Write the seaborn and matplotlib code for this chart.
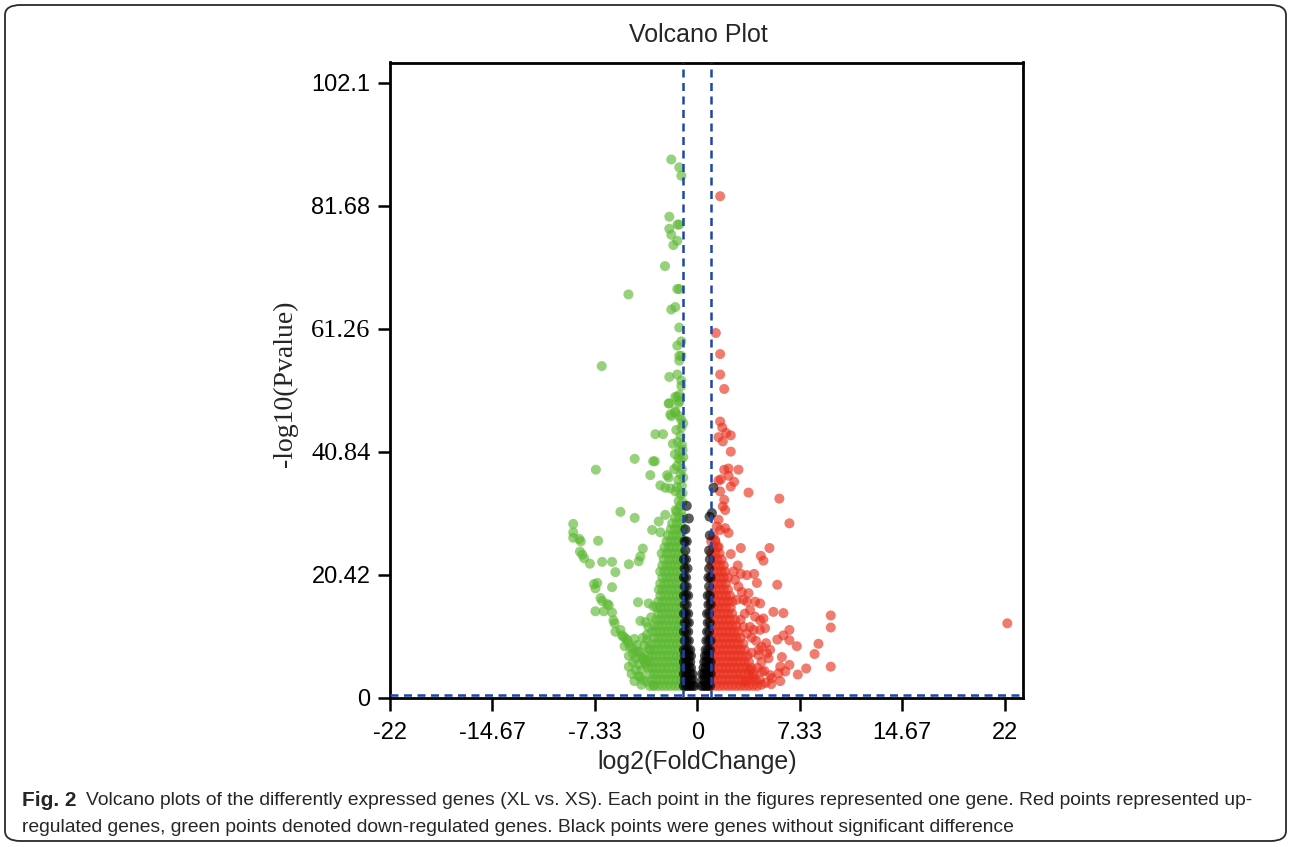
"""
Volcano plot of differently expressed genes (XL vs. XS), redrawn with seaborn.
Saves out.png
"""
import numpy as np
import pandas as pd
import matplotlib
matplotlib.use("Agg")
import matplotlib.pyplot as plt
from matplotlib.patches import FancyBboxPatch
import seaborn as sns

# ---- data: (log2FoldChange, -log10(Pvalue)) ----
down_sparse = [
    (-1.86, 89.4), (-1.29, 88.1), (-1.14, 86.7), (-2.00, 79.9), (-1.41, 78.6), (-1.29, 78.6),
    (-2.00, 77.9), (-1.86, 76.9), (-1.43, 75.9), (-1.71, 75.2), (-2.31, 71.7), (-4.93, 67.0),
    (-1.43, 67.9), (-1.29, 67.9), (-1.57, 64.9), (-1.86, 64.5), (-1.29, 61.5), (-1.14, 59.2),
    (-1.43, 58.5), (-1.29, 56.8), (-1.14, 56.8), (-1.29, 56.0), (-6.84, 55.1), (-2.00, 53.3),
    (-1.43, 53.7), (-1.14, 52.7), (-1.14, 51.8), (-1.29, 50.3), (-1.57, 50.0), (-1.43, 50.0),
    (-2.00, 48.9), (-1.29, 49.3), (-1.57, 47.6), (-1.86, 46.8), (-1.29, 46.8), (-1.00, 45.6),
    (-1.14, 44.9), (-2.05, 48.9), (-1.33, 49.0), (-1.93, 47.1), (-1.57, 47.4), (-3.00, 43.8),
    (-2.45, 43.8), (-1.50, 44.5), (-1.20, 43.5), (-1.40, 42.5), (-1.10, 42.0), (-1.30, 41.0),
    (-1.60, 40.5), (-1.00, 40.0), (-1.20, 39.5), (-1.45, 38.5), (-1.10, 38.0), (-4.48, 39.7),
    (-3.16, 39.3), (-3.04, 39.3), (-7.26, 37.9), (-3.36, 37.0), (-2.16, 37.0), (-2.05, 36.6),
    (-2.64, 35.3), (-2.29, 34.9), (-1.93, 34.8), (-1.57, 34.3), (-1.21, 33.8), (-1.33, 32.7),
    (-1.05, 32.5), (-1.10, 35.2), (-1.00, 36.6), (-1.35, 36.2), (-5.50, 30.9), (-4.48, 29.9),
    (-2.76, 29.3), (-2.29, 30.4), (-8.88, 28.9), (-8.88, 27.5), (-8.88, 26.6), (-8.45, 26.4),
    (-8.34, 26.0), (-7.10, 26.1), (-3.23, 27.9), (-2.64, 27.5), (-8.40, 24.3), (-8.23, 23.8),
    (-8.10, 23.2), (-7.69, 22.3), (-6.81, 22.6), (-6.10, 22.6), (-4.90, 22.2), (-4.19, 22.7),
    (-4.07, 23.5), (-3.90, 24.8), (-5.86, 20.9), (-7.40, 18.9), (-7.29, 18.2), (-7.16, 19.1),
    (-6.10, 18.4), (-6.93, 16.6), (-6.81, 16.1), (-6.45, 15.6), (-6.33, 15.4), (-7.29, 14.4),
    (-6.69, 14.4), (-6.10, 14.2), (-4.24, 15.9), (-4.07, 12.8), (-3.48, 15.7), (-3.12, 15.2),
    (-6.00, 12.9), (-5.92, 12.4), (-5.86, 11.0), (-5.50, 11.3), (-5.38, 10.4), (-5.14, 9.9),
    (-4.93, 9.1), (-4.57, 8.2), (-4.29, 7.7), (-4.07, 7.1), (-3.86, 6.6), (-3.57, 6.3),
    (-4.90, 5.2), (-4.07, 3.5), (-3.60, 2.7), (-3.12, 2.1), (-3.60, 9.6), (-3.48, 8.2),
    (-1.25, 31.8), (-1.55, 31.2), (-1.05, 34.0), (-1.45, 35.0), (-1.20, 37.2), (-1.65, 38.0),
    (-1.05, 41.2), (-1.35, 39.8), (-1.75, 42.2), (-1.15, 46.2),
]

down_tail = [
    (-5.3, 10.2), (-5.0, 9.6), (-5.2, 8.6), (-4.8, 8.4), (-4.6, 7.4), (-4.9, 7.0), (-4.4, 6.6),
    (-4.6, 5.9), (-4.2, 5.6), (-4.4, 4.6), (-4.0, 4.7), (-4.7, 4.0), (-4.2, 3.6), (-3.9, 3.0),
    (-4.5, 2.8), (-4.0, 2.2), (-3.7, 5.6), (-3.9, 6.4), (-4.1, 7.6), (-3.8, 8.7), (-4.3, 8.8),
    (-3.6, 10.5), (-3.9, 10.0), (-4.5, 9.8), (-3.5, 11.8), (-3.7, 12.6), (-3.3, 13.4),
]

# dense green core, one row of x values per -log10(P) level
down_core_y = [2, 3, 4, 5, 6, 7, 8, 9, 10, 11, 12, 13, 14, 15, 16,
               17, 18, 19, 20, 21, 22, 23, 24, 25, 26, 27, 28, 29, 30, 31]
down_core_x = [
    [-1.0, -1.3, -1.6, -1.9, -2.2, -2.5, -2.8, -3.1, -3.4],
    [-1.15, -1.45, -1.75, -2.05, -2.35, -2.65, -2.95, -3.25],
    [-1.0, -1.3, -1.6, -1.9, -2.2, -2.5, -2.8, -3.1, -3.4],
    [-1.15, -1.45, -1.75, -2.05, -2.35, -2.65, -2.95, -3.25, -3.55],
    [-1.0, -1.3, -1.6, -1.9, -2.2, -2.5, -2.8, -3.1, -3.4, -3.7],
    [-1.15, -1.45, -1.75, -2.05, -2.35, -2.65, -2.95, -3.25, -3.55],
    [-1.0, -1.3, -1.6, -1.9, -2.2, -2.5, -2.8, -3.1, -3.4],
    [-1.15, -1.45, -1.75, -2.05, -2.35, -2.65, -2.95, -3.3],
    [-1.0, -1.3, -1.6, -1.9, -2.2, -2.5, -2.8, -3.1],
    [-1.15, -1.45, -1.75, -2.05, -2.35, -2.65, -2.95, -3.25],
    [-1.0, -1.3, -1.6, -1.9, -2.2, -2.5, -2.8, -3.1],
    [-1.15, -1.45, -1.75, -2.05, -2.35, -2.65, -2.95],
    [-1.0, -1.3, -1.6, -1.9, -2.2, -2.5, -2.8],
    [-1.15, -1.45, -1.75, -2.05, -2.35, -2.65, -2.9],
    [-1.0, -1.3, -1.6, -1.9, -2.2, -2.5, -2.8],
    [-1.15, -1.45, -1.75, -2.05, -2.35, -2.65],
    [-1.0, -1.3, -1.6, -1.9, -2.2, -2.5, -2.75],
    [-1.15, -1.45, -1.75, -2.05, -2.35, -2.65],
    [-1.0, -1.3, -1.6, -1.9, -2.2, -2.5],
    [-1.15, -1.45, -1.75, -2.05, -2.35, -2.65],
    [-1.0, -1.3, -1.6, -1.9, -2.2, -2.5],
    [-1.15, -1.45, -1.75, -2.05, -2.4],
    [-1.0, -1.3, -1.6, -1.9, -2.2, -2.55],
    [-1.15, -1.45, -1.75, -2.05, -2.35],
    [-1.0, -1.3, -1.6, -1.9, -2.2],
    [-1.15, -1.45, -1.75, -2.1],
    [-1.0, -1.3, -1.6, -1.9],
    [-1.15, -1.45, -1.8],
    [-1.0, -1.3, -1.6],
    [-1.15, -1.45],
]

up_sparse = [
    (1.64, 83.3), (1.33, 60.6), (1.64, 57.1), (1.64, 53.7), (1.93, 51.3), (1.64, 45.9),
    (1.79, 44.9), (2.07, 44.0), (2.40, 43.6), (1.52, 43.3), (1.83, 42.6), (2.40, 40.9),
    (1.93, 37.9), (2.24, 38.1), (2.95, 37.9), (2.24, 36.9), (1.69, 36.3), (2.64, 35.9),
    (1.52, 36.1), (2.40, 35.1), (1.64, 34.3), (3.67, 34.1), (5.88, 33.1), (1.93, 32.9),
    (1.83, 31.8), (2.00, 31.2), (6.60, 29.0), (1.52, 29.6), (1.40, 28.5), (1.64, 27.9),
    (2.00, 28.2), (2.24, 27.4), (1.28, 26.2), (1.52, 25.1), (3.12, 24.9), (5.17, 24.9),
    (2.40, 23.9), (4.55, 23.6), (4.74, 22.8), (3.12, 20.6), (3.55, 20.4), (4.07, 20.6),
    (4.27, 19.1), (5.73, 18.8), (2.70, 19.6), (2.95, 18.5), (3.19, 17.6), (3.67, 17.4),
    (3.31, 16.3), (3.55, 16.0), (4.14, 16.0), (4.50, 15.7), (2.83, 16.3), (5.45, 14.3),
    (6.17, 14.1), (9.56, 13.7), (9.56, 11.7), (22.2, 12.4), (3.78, 14.6), (4.14, 13.5),
    (4.50, 12.9), (4.74, 13.2), (4.86, 11.6), (4.50, 11.3), (4.04, 11.3), (3.31, 11.8),
    (3.78, 11.8), (3.55, 10.7), (6.60, 11.3), (6.17, 10.4), (5.73, 9.7), (6.60, 9.6),
    (7.13, 8.6), (8.68, 9.0), (4.93, 9.1), (5.22, 8.0), (4.62, 8.5), (8.40, 7.3),
    (6.06, 6.8), (4.99, 7.4), (4.39, 7.1), (5.10, 6.6), (9.56, 5.2), (7.80, 4.9),
    (7.20, 3.9), (6.60, 5.5), (5.94, 5.2), (5.82, 4.1), (6.30, 4.4), (5.94, 2.8),
    (5.22, 3.8), (5.34, 3.3), (4.50, 3.0), (4.62, 4.4), (4.04, 3.5), (3.78, 4.7),
    (3.43, 2.7), (2.90, 22.0), (2.60, 21.0), (3.40, 14.0), (3.10, 13.0), (3.90, 10.0),
    (4.20, 9.5), (4.40, 8.0), (3.90, 7.5), (4.60, 6.0), (4.30, 5.0), (4.80, 4.5),
    (4.90, 2.5), (5.30, 2.3), (4.60, 2.2),
]

up_core_y = [2, 3, 4, 5, 6, 7, 8, 9, 10, 11, 12, 13, 14, 15,
             16, 17, 18, 19, 20, 21, 22, 23, 24, 25, 26, 27]
up_core_x = [
    [1.0, 1.3, 1.6, 1.9, 2.2, 2.5, 2.8, 3.1, 3.4, 3.7, 4.0, 4.3],
    [1.15, 1.45, 1.75, 2.05, 2.35, 2.65, 2.95, 3.25, 3.55, 3.85, 4.2],
    [1.0, 1.3, 1.6, 1.9, 2.2, 2.5, 2.8, 3.1, 3.4, 3.7, 4.0],
    [1.15, 1.45, 1.75, 2.05, 2.35, 2.65, 2.95, 3.25, 3.55, 3.9],
    [1.0, 1.3, 1.6, 1.9, 2.2, 2.5, 2.8, 3.1, 3.4, 3.7],
    [1.15, 1.45, 1.75, 2.05, 2.35, 2.65, 2.95, 3.25, 3.6],
    [1.0, 1.3, 1.6, 1.9, 2.2, 2.5, 2.8, 3.1, 3.4],
    [1.15, 1.45, 1.75, 2.05, 2.35, 2.65, 2.95, 3.3],
    [1.0, 1.3, 1.6, 1.9, 2.2, 2.5, 2.8, 3.1],
    [1.15, 1.45, 1.75, 2.05, 2.35, 2.65, 2.95],
    [1.0, 1.3, 1.6, 1.9, 2.2, 2.5, 2.8],
    [1.15, 1.45, 1.75, 2.05, 2.35, 2.7],
    [1.0, 1.3, 1.6, 1.9, 2.2, 2.5],
    [1.15, 1.45, 1.75, 2.05, 2.4],
    [1.0, 1.3, 1.6, 1.9, 2.2, 2.5],
    [1.15, 1.45, 1.75, 2.05, 2.35],
    [1.0, 1.3, 1.6, 1.9, 2.2],
    [1.15, 1.45, 1.75, 2.05],
    [1.0, 1.3, 1.6, 1.9, 2.2],
    [1.15, 1.45, 1.75, 2.0],
    [1.0, 1.3, 1.6, 1.9],
    [1.15, 1.45, 1.75],
    [1.0, 1.3, 1.6],
    [1.15, 1.45],
    [1.0, 1.3],
    [1.15],
]

none_left_y = [2, 3, 4, 5, 6, 7, 8, 9.5, 11, 12.5, 14, 15.5, 17, 18.5,
               20, 21.5, 23, 24.5, 26, 28, 29.8, 31.9]
none_left_x = [
    [-0.95, -0.8, -0.65, -0.5, -0.35, -0.2],
    [-0.9, -0.75, -0.6, -0.45, -0.3],
    [-0.95, -0.8, -0.65, -0.5, -0.35],
    [-0.9, -0.75, -0.6, -0.45],
    [-0.95, -0.8, -0.65, -0.5],
    [-0.9, -0.75, -0.6, -0.45],
    [-0.95, -0.8, -0.65, -0.5],
    [-0.9, -0.75, -0.6],
    [-0.95, -0.8, -0.65],
    [-0.9, -0.75, -0.6],
    [-0.95, -0.8, -0.65],
    [-0.9, -0.75],
    [-0.95, -0.8, -0.65],
    [-0.9, -0.75],
    [-0.95, -0.8],
    [-0.9, -0.7],
    [-0.95, -0.8],
    [-0.85],
    [-0.9, -0.75],
    [-0.85],
    [-0.6],
    [-0.75],
]

none_right_y = [2, 3, 4, 5, 6, 7, 8, 9.5, 11, 12.5, 14, 15.5, 17, 18.5,
                20, 21.5, 23, 24.5, 27, 30.1, 30.7, 34.9]
none_right_x = [
    [0.3, 0.45, 0.6, 0.75, 0.9],
    [0.4, 0.55, 0.7, 0.85],
    [0.35, 0.5, 0.65, 0.8, 0.95],
    [0.45, 0.6, 0.75, 0.9],
    [0.5, 0.65, 0.8, 0.95],
    [0.55, 0.7, 0.85],
    [0.6, 0.75, 0.9],
    [0.65, 0.8, 0.95],
    [0.7, 0.85],
    [0.75, 0.9],
    [0.7, 0.85],
    [0.8, 0.95],
    [0.75, 0.9],
    [0.85],
    [0.8, 0.95],
    [0.85],
    [0.9],
    [0.85],
    [0.9],
    [0.88],
    [1.05],
    [1.16],
]

x_ticks = [-22, -14.67, -7.33, 0, 7.33, 14.67, 22]
x_tick_labels = ["-22", "-14.67", "-7.33", "0", "7.33", "14.67", "22"]
y_ticks = [0, 20.42, 40.84, 61.26, 81.68, 102.1]
y_tick_labels = ["0", "20.42", "40.84", "61.26", "81.68", "102.1"]
fc_cut = 1.0

caption_bold = "Fig. 2"
caption_1 = ("Volcano plots of the differently expressed genes (XL vs. XS). Each point in the "
             "figures represented one gene. Red points represented up-")
caption_2 = ("regulated genes, green points denoted down-regulated genes. Black points were "
             "genes without significant difference")


def rows_to_pairs(ys, xs):
    return [(x, y) for y, row in zip(ys, xs) for x in row]


def main():
    down = down_sparse + down_tail + rows_to_pairs(down_core_y, down_core_x)
    up = up_sparse + rows_to_pairs(up_core_y, up_core_x)
    none = rows_to_pairs(none_left_y, none_left_x) + rows_to_pairs(none_right_y, none_right_x)

    frames = []
    for name, pts in (("down", down), ("up", up), ("none", none)):
        d = pd.DataFrame(pts, columns=["log2fc", "logp"])
        d["group"] = name
        frames.append(d)
    df = pd.concat(frames, ignore_index=True)

    sns.set_theme(style="ticks")
    plt.rcParams["font.family"] = ["Liberation Sans", "DejaVu Sans"]

    W, H = 1292, 847
    fig = plt.figure(figsize=(W / 100, H / 100), dpi=100)
    fig.patch.set_facecolor("white")
    ax = fig.add_axes([390 / W, 1 - 698 / H, (1023.5 - 390) / W, (698 - 62.5) / H])

    palette = {"down": "#5cb832", "up": "#e9301e", "none": "#000000"}
    sns.scatterplot(data=df, x="log2fc", y="logp", hue="group", palette=palette,
                    s=52, alpha=0.64, linewidth=0, legend=False, ax=ax, zorder=2)

    line_kw = dict(color="#1f45a8", lw=1.8, dashes=(3.2, 2.2), zorder=3)
    ax.axvline(-fc_cut, **line_kw)
    ax.axvline(fc_cut, **line_kw)
    ax.axhline(0.5, **line_kw)

    ax.set_xlim(-22, 23.36)
    ax.set_ylim(0, 105.5)
    ax.set_xticks(x_ticks)
    ax.set_xticklabels(x_tick_labels)
    ax.set_yticks(y_ticks)
    ax.set_yticklabels(y_tick_labels)
    ax.tick_params(direction="out", length=9, width=1.8, labelsize=17, colors="black", pad=5)
    ax.tick_params(axis="x", pad=8)
    for lab in ax.get_yticklabels():
        if lab.get_text() in ("40.84", "61.26"):
            lab.set_fontfamily("Liberation Serif")
            lab.set_fontsize(19)
    for sp in ax.spines.values():
        sp.set_linewidth(2.0)
        sp.set_color("black")
        sp.set_visible(True)
    ax.set_xlabel("")
    ax.set_ylabel("")

    fig.text(698 / W, 1 - 35 / H, "Volcano Plot", ha="center", va="center", fontsize=18)
    fig.text(697 / W, 1 - 762 / H, "log2(FoldChange)", ha="center", va="center", fontsize=18)
    fig.text(285 / W, 1 - 384 / H, "-log10(Pvalue)", ha="center", va="center", rotation=90,
             fontsize=20, family="Liberation Serif")

    fig.text(22 / W, 1 - 800 / H, caption_bold, ha="left", va="center", fontsize=15,
             fontweight="bold")
    fig.text(86 / W, 1 - 800 / H, caption_1, ha="left", va="center", fontsize=13.9)
    fig.text(22 / W, 1 - 827 / H, caption_2, ha="left", va="center", fontsize=13.9)

    box = FancyBboxPatch((5 / W, 6 / H), 1281 / W, 836 / H,
                         boxstyle="round,pad=0,rounding_size=0.012",
                         transform=fig.transFigure, fill=False, ec="#2a2a2a", lw=1.3)
    fig.patches.append(box)

    fig.savefig("out.png", dpi=100)
    plt.close(fig)


if __name__ == "__main__":
    main()
